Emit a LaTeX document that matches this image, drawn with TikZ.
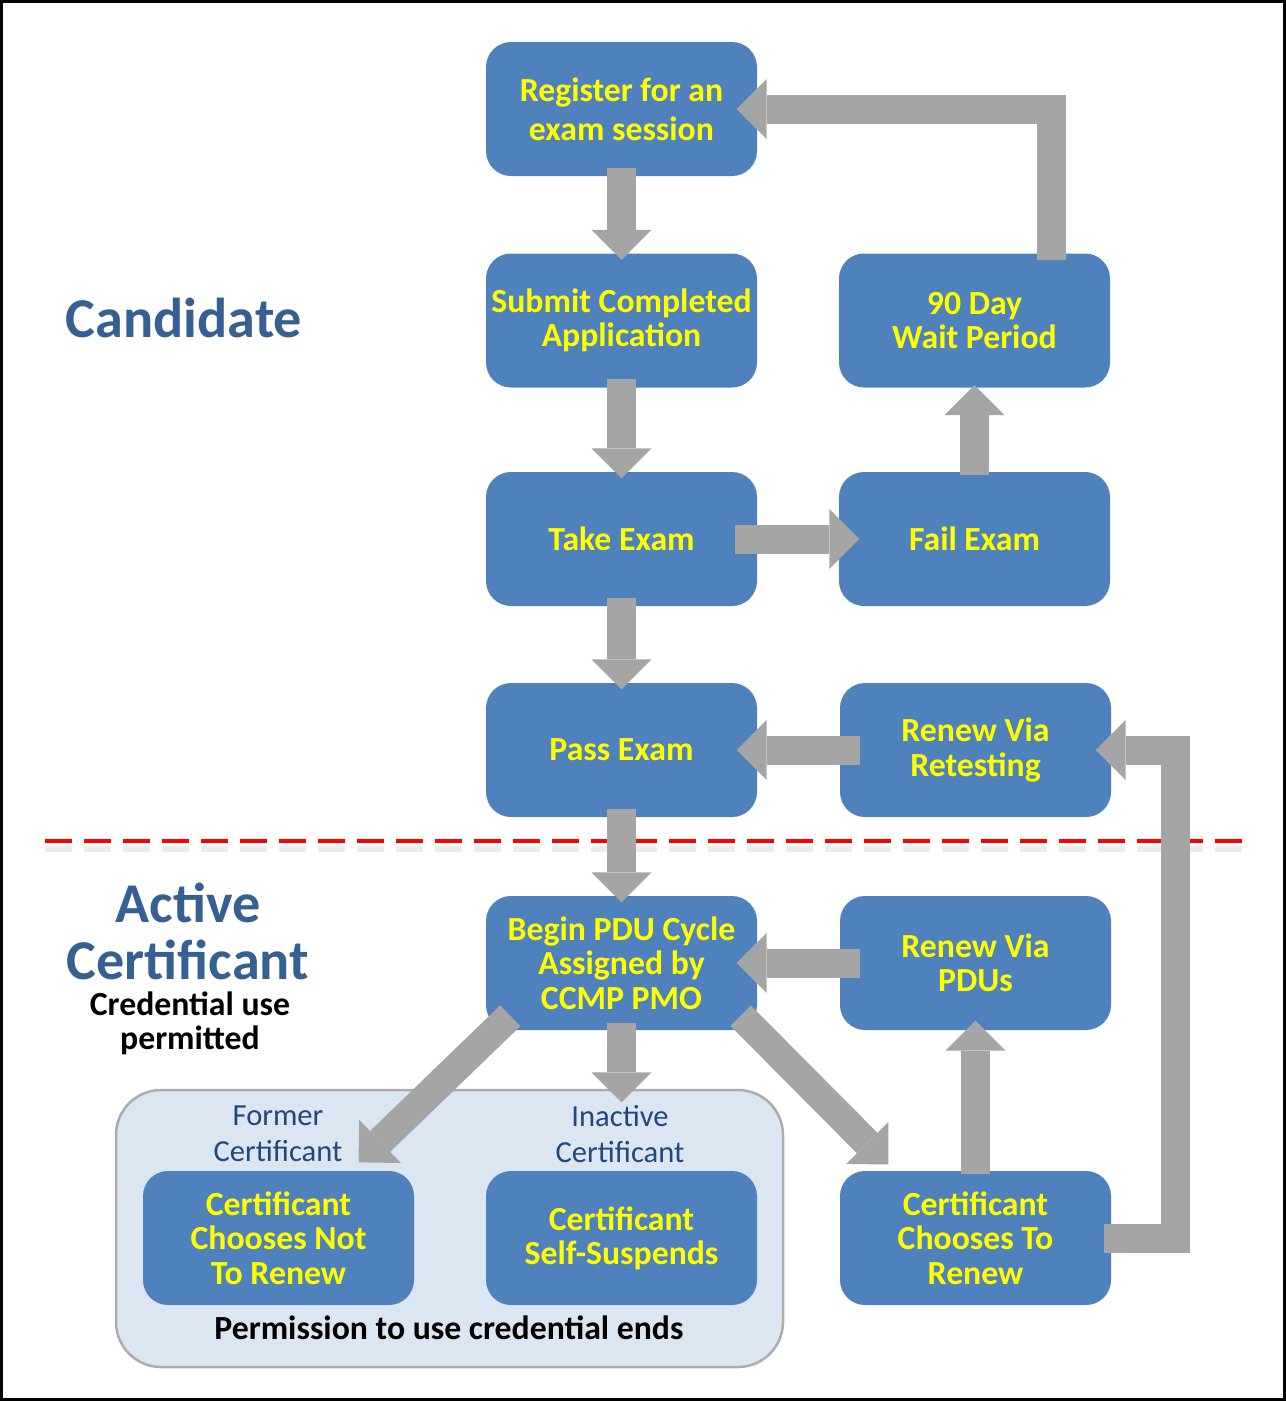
\documentclass[tikz,border=0pt]{standalone}
\usepackage{fontspec}
\setmainfont{Carlito}
\usetikzlibrary{arrows.meta}

\definecolor{boxblue}{RGB}{79,129,189}
\definecolor{flowgray}{RGB}{165,165,165}
\definecolor{labelyellow}{RGB}{255,255,0}
\definecolor{headblue}{RGB}{55,96,146}
\definecolor{stateblue}{RGB}{31,73,125}
\definecolor{panelblue}{RGB}{220,230,242}

\begin{document}
\begin{tikzpicture}[
            x = 0.1mm, y = -0.1mm, % one unit = one pixel of the sketch
            > = {Triangle[width=6mm, length=3mm, line width=0pt]}, % block arrow head
            line join = miter%,
            %rounded corners % no, the bends are square
        ]

        \tikzstyle{stage}=[
            rectangle,
            rounded corners = 2.5mm,
            fill = boxblue,
            text = labelyellow,
            font = \fontsize{9.6}{9.8}\selectfont\bfseries,
            align = center,
            inner sep = 0pt,
            minimum width = 27.1mm,
            minimum height = 13.4mm
        ]
        \tikzstyle{flow}=[
            color = flowgray,
            line width = 2.9mm
        ]
        \tikzstyle{heading}=[
            text = headblue,
            font = \fontsize{16}{16.2}\selectfont\bfseries,
            align = center
        ]
        \tikzstyle{status}=[
            text = stateblue,
            font = \fontsize{8.7}{10.2}\selectfont,
            align = center
        ]
        \tikzstyle{remark}=[
            font = \fontsize{9.6}{9.7}\selectfont\bfseries,
            align = center
        ]

        \useasboundingbox (0,0) rectangle (1286,1401);
        \draw[line width = 0.3mm] (1.5,1.5) rectangle (1284.5,1399.5);

        % panel of the states where the credential ends
        \node[rectangle, rounded corners = 4.5mm, fill = panelblue, draw = gray!65, line width = 0.25mm,
              minimum width = 66.7mm, minimum height = 27.7mm] (ends) at ( 449.5 , 1228.5 ) {};

        % border between candidate and certificant
        \draw[gray!15, line width = 0.6mm, dash pattern = on 2.7mm off 1.2mm] (45,849) -- (1252,849);
        \draw[red, line width = 0.4mm, dash pattern = on 2.7mm off 1.2mm] (45,841) -- (1252,841);

        \node[stage, font = \fontsize{9.6}{11.2}\selectfont\bfseries]
                                      (reg)      at (  621.5 ,  109   ) {Register for an\\exam session};
        \node[stage]                  (sub)      at (  621.5 ,  320.5 ) {Submit Completed\\Application};
        \node[stage]                  (take)     at (  621.5 ,  539   ) {Take Exam};
        \node[stage]                  (pass)     at (  621.5 ,  750   ) {Pass Exam};
        \node[stage]                  (begin)    at (  621.5 ,  963   ) {Begin PDU Cycle\\Assigned by\\CCMP PMO};
        \node[stage]                  (wait)     at (  974.5 ,  320.5 ) {90 Day\\Wait Period};
        \node[stage]                  (fail)     at (  974.5 ,  539   ) {Fail Exam};
        \node[stage]                  (retest)   at (  975.5 ,  750   ) {Renew Via\\Retesting};
        \node[stage]                  (pdus)     at (  975.5 ,  963   ) {Renew Via\\PDUs};
        \node[stage]                  (renew)    at (  975.5 , 1238   ) {Certificant\\Chooses To\\Renew};
        \node[stage]                  (notrenew) at (  278.5 , 1238   ) {Certificant\\Chooses Not\\To Renew};
        \node[stage]                  (susp)     at (  621.5 , 1238   ) {Certificant\\Self-Suspends};

        \node[heading]                (cand)     at (  184   ,  318   ) {Candidate};
        \node[heading]                (active)   at (  188   ,  931   ) {Active\\Certificant};
        \node[remark]                 (permit)   at (  190   , 1023   ) {Credential use\\permitted};
        \node[status]                 (former)   at (  278   , 1134   ) {Former\\Certificant};
        \node[status]                 (inact)    at (  620   , 1134   ) {Inactive\\Certificant};
        \node[remark]                 (endnote)  at (  449   , 1328   ) {Permission to use credential ends};

        % block arrows, drawn over the boxes
        \path[->, flow, shorten <= -0.9mm, shorten >= -0.7mm] (reg)  edge (sub)
                                                              (sub)  edge (take)
                                                              (take) edge (pass)
                                                              (pass) edge (begin);
        \path[->, flow, shorten <= -2.3mm, shorten >= -2.1mm] (take) edge (fail);
        \path[->, flow, shorten <= -2.1mm, shorten >= -2.1mm] (retest) edge (pass)
                                                              (pdus)   edge (begin);
        \path[->, flow, shorten <= -0.4mm, shorten >= -0.3mm] (fail)  edge (wait);
        \path[->, flow, shorten <= -0.4mm, shorten >= -1mm]   (renew) edge (pdus);
        \path[->, flow, shorten <= -0.8mm, shorten >= 6.8mm]  (begin) edge (susp);

        \path[->, flow] ([shift={(25,-15)}]begin.south west) edge ([shift={(80,-8)}]notrenew.north);
        \path[->, flow] ([shift={(-17,-15)}]begin.south east) edge ([shift={(49,-6)}]renew.north west);

        \draw[->, flow, shorten <= -0.7mm, shorten >= -2.1mm] ([shift={(77,0)}]wait.north) |- (reg.east);
        \draw[->, flow, shorten <= -0.8mm, shorten >= -1.6mm] (renew.east) -- ++(64,0) |- (retest.east);

    \end{tikzpicture}
\end{document}
